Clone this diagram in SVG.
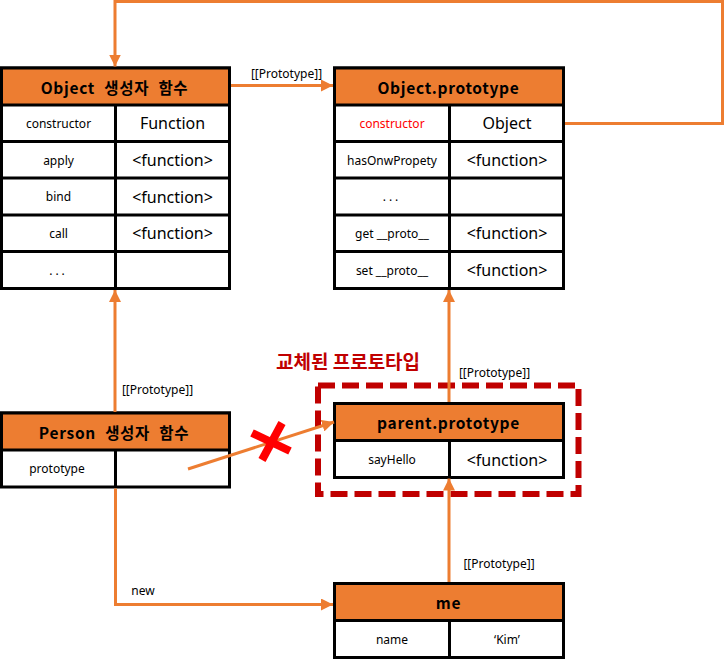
<svg xmlns="http://www.w3.org/2000/svg" width="725" height="660" viewBox="0 0 725 660">
<style>
.cell{fill:#fff;stroke:#000;stroke-width:3}
.hdr{fill:#ED7D31;stroke:#000;stroke-width:3}
.ln{stroke:#000;stroke-width:3}
.ht{font-family:"Noto Sans CJK KR","Noto Sans",sans-serif;font-weight:bold;font-size:15.5px;fill:#000;text-anchor:middle;dominant-baseline:central;letter-spacing:0.7px}
.kw{word-spacing:5px}
.k{font-family:"Noto Sans","Noto Sans CJK KR",sans-serif;font-size:12px;fill:#000;text-anchor:middle;dominant-baseline:central}
.v{font-family:"Noto Sans","Noto Sans CJK KR",sans-serif;font-size:16px;fill:#000;text-anchor:middle;dominant-baseline:central}
.lbl{font-family:"Noto Sans","Noto Sans CJK KR",sans-serif;font-size:12px;fill:#000;text-anchor:middle;dominant-baseline:central}
.conn{fill:none;stroke:#ED7D31;stroke-width:3}
</style>
<defs>
<marker id="ah" markerUnits="userSpaceOnUse" markerWidth="12" markerHeight="12" refX="12" refY="6" orient="auto">
<path d="M0,0 L12,6 L0,12 z" fill="#ED7D31"/>
</marker>
</defs>

<rect id="replaced-box" x="318" y="385.5" width="260.5" height="108.5" fill="none" stroke="#C00000" stroke-width="6" stroke-dasharray="17 7"/>
<text x="348" y="360" font-family="'Noto Sans CJK KR',sans-serif" font-weight="bold" font-size="19" fill="#C00000" text-anchor="middle" dominant-baseline="central">교체된 프로토타입</text>

<g id="object-ctor">
<rect class="cell" x="1.5" y="68" width="228" height="220.5"/>
<rect class="hdr" x="1.5" y="68" width="228" height="37"/>
<line class="ln" x1="1.5" y1="141.5" x2="229.5" y2="141.5"/>
<line class="ln" x1="1.5" y1="178" x2="229.5" y2="178"/>
<line class="ln" x1="1.5" y1="215" x2="229.5" y2="215"/>
<line class="ln" x1="1.5" y1="251.5" x2="229.5" y2="251.5"/>
<line class="ln" x1="115.5" y1="105" x2="115.5" y2="288.5"/>
<text class="ht kw" x="114.5" y="86.5">Object 생성자 함수</text>
<text class="k" x="58.5" y="123">constructor</text>
<text class="v" x="172.5" y="123">Function</text>
<text class="k" x="58.5" y="160">apply</text>
<text class="v" x="172.5" y="160">&lt;function&gt;</text>
<text class="k" x="58.5" y="196.5">bind</text>
<text class="v" x="172.5" y="196.5">&lt;function&gt;</text>
<text class="k" x="58.5" y="233">call</text>
<text class="v" x="172.5" y="233">&lt;function&gt;</text>
<text class="k" x="58.5" y="270" letter-spacing="3">...</text>
</g>

<g id="object-prototype">
<rect class="cell" x="334.5" y="68" width="229" height="220.5"/>
<rect class="hdr" x="334.5" y="68" width="229" height="37"/>
<line class="ln" x1="334.5" y1="141.5" x2="563.5" y2="141.5"/>
<line class="ln" x1="334.5" y1="178" x2="563.5" y2="178"/>
<line class="ln" x1="334.5" y1="215" x2="563.5" y2="215"/>
<line class="ln" x1="334.5" y1="251.5" x2="563.5" y2="251.5"/>
<line class="ln" x1="449.5" y1="105" x2="449.5" y2="288.5"/>
<text class="ht" x="448.5" y="86.5">Object.prototype</text>
<text class="k" x="392" y="123" style="fill:#FF0000">constructor</text>
<text class="v" x="507" y="123">Object</text>
<text class="k" x="392" y="160">hasOnwPropety</text>
<text class="v" x="507" y="160">&lt;function&gt;</text>
<text class="k" x="392" y="196.5" letter-spacing="3">...</text>
<text class="k" x="392" y="233">get __proto__</text>
<text class="v" x="507" y="233">&lt;function&gt;</text>
<text class="k" x="392" y="270">set __proto__</text>
<text class="v" x="507" y="270">&lt;function&gt;</text>
</g>

<g id="person-ctor">
<rect class="cell" x="1.5" y="413" width="228" height="74"/>
<rect class="hdr" x="1.5" y="413" width="228" height="37"/>
<line class="ln" x1="115.5" y1="450" x2="115.5" y2="487"/>
<text class="ht kw" x="114" y="431.5">Person 생성자 함수</text>
<text class="k" x="57" y="468">prototype</text>
</g>

<g id="parent-prototype">
<rect class="cell" x="334.5" y="403.5" width="229" height="74"/>
<rect class="hdr" x="334.5" y="403.5" width="229" height="37"/>
<line class="ln" x1="449.5" y1="440.5" x2="449.5" y2="477.5"/>
<text class="ht" x="448.5" y="422">parent.prototype</text>
<text class="k" x="392" y="459.5">sayHello</text>
<text class="v" x="507" y="459.5">&lt;function&gt;</text>
</g>

<g id="me">
<rect class="cell" x="334.5" y="583.5" width="229" height="74"/>
<rect class="hdr" x="334.5" y="583.5" width="229" height="37"/>
<line class="ln" x1="449.5" y1="620.5" x2="449.5" y2="657.5"/>
<text class="ht" x="448.5" y="602">me</text>
<text class="k" x="392" y="639.5">name</text>
<text class="k" x="507" y="639.5">‘Kim’</text>
</g>

<g id="connectors">
<path class="conn" d="M565,123.5 H722.5 V1.5 H115 V66.5" marker-end="url(#ah)"/>
<path class="conn" d="M231,85.5 H333" marker-end="url(#ah)"/>
<path class="conn" d="M115,412 V290" marker-end="url(#ah)"/>
<path class="conn" d="M449,402 V290" marker-end="url(#ah)"/>
<path class="conn" d="M449,582 V478.5" marker-end="url(#ah)"/>
<path class="conn" d="M115.5,488.5 V604.5 H333" marker-end="url(#ah)"/>
<path class="conn" d="M188,469 L334,422" marker-end="url(#ah)"/>
<text class="lbl" x="286.5" y="73">[[Prototype]]</text>
<text class="lbl" x="157.5" y="389">[[Prototype]]</text>
<text class="lbl" x="494.5" y="372.5">[[Prototype]]</text>
<text class="lbl" x="499" y="563.5">[[Prototype]]</text>
<text class="lbl" x="143" y="590.5">new</text>
</g>

<g id="cross" stroke="#FF0000" stroke-width="8" stroke-linecap="butt">
<line x1="282" y1="423" x2="262" y2="460"/>
<line x1="252" y1="433" x2="290" y2="451"/>
</g>
</svg>
